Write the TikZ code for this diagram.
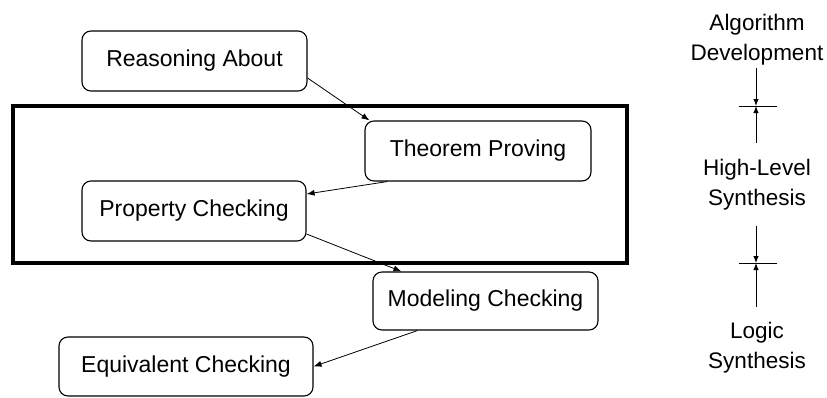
\documentclass[tikz,border=0pt]{standalone}
\usepackage{fontspec}
\setmainfont{Liberation Sans}
\usetikzlibrary{arrows.meta,calc}
\tikzset{
  stagebox/.style={draw, line width=1.1pt, rounded corners=9pt, inner sep=0pt,
    font=\fontsize{23}{27}\selectfont, align=center},
  flow/.style={line width=0.8pt, -{Latex[length=8pt,width=6pt]}},
  level/.style={font=\fontsize{22.5}{30}\selectfont, align=center, inner sep=0pt},
  levelarrow/.style={line width=1pt, -{Latex[length=7pt,width=5.5pt]}},
  frame/.style={line width=4pt}
}
\begin{document}
\begin{tikzpicture}[x=1pt,y=-1pt]
\useasboundingbox[fill=white] (0,0) rectangle (827,397);

% enclosing frame around the middle stages
\draw[frame] (13,106) rectangle (627,263);

% stage boxes
\node[stagebox, minimum width=225pt, minimum height=60pt] (ra) at (194.5,61) {Reasoning About};
\node[stagebox, minimum width=226pt, minimum height=60pt] (tp) at (478,151) {Theorem Proving};
\node[stagebox, minimum width=224pt, minimum height=60pt] (pc) at (194,211) {Property Checking};
\node[stagebox, minimum width=225pt, minimum height=58pt] (mc) at (485.5,301) {Modeling Checking};
\node[stagebox, minimum width=254pt, minimum height=59pt] (ec) at (186,366.5) {Equivalent Checking};

% connectors between stages
\draw[flow] ($(ra.east)+(0,17)$) -- ($(tp.north west)+(5,0)$);
\draw[flow] ($(tp.south west)+(23,0)$) -- ($(pc.east)+(0,-17)$);
\draw[flow] ($(pc.east)+(0,23)$) -- ($(mc.north west)+(29,0)$);
\draw[flow] ($(mc.south west)+(45,0)$) -- (ec.east);

% design levels on the right
\node[level] (alg) at (757,40) {Algorithm\\Development};
\node[level] (hls) at (757,185) {High-Level\\Synthesis};
\node[level] (ls) at (757,348) {Logic\\Synthesis};

\coordinate (t1) at (756,106);
\coordinate (t2) at (756,263);
\coordinate (a1) at (756,68);
\coordinate (b1) at (756,143);
\coordinate (a2) at (756,226);
\coordinate (b2) at (756,307);

\draw[levelarrow] (a1) -- (t1);
\draw[levelarrow] (b1) -- (t1);
\draw[line width=1pt] ($(t1)+(-17,0)$) -- ($(t1)+(21,0)$);
\draw[levelarrow] (a2) -- (t2);
\draw[levelarrow] (b2) -- (t2);
\draw[line width=1pt] ($(t2)+(-17,0)$) -- ($(t2)+(21,0)$);
\end{tikzpicture}
\end{document}
